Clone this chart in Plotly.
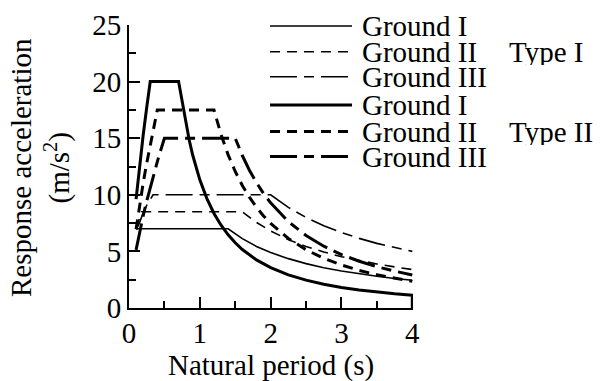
import plotly.graph_objects as go

# ---- data ----
period_t1_g1 = [0.1, 1.4, 1.6, 1.8, 2.0, 2.25, 2.5, 2.75, 3.0, 3.25, 3.5, 3.75, 4.0]
accel_t1_g1 = [7.0, 7.0, 6.13, 5.44, 4.9, 4.36, 3.92, 3.56, 3.27, 3.02, 2.8, 2.61, 2.45]

period_t1_g2 = [0.1, 0.14, 0.18, 1.6, 1.8, 2.0, 2.25, 2.5, 2.75, 3.0, 3.25, 3.5, 3.75, 4.0]
accel_t1_g2 = [7.03, 7.87, 8.5, 8.5, 7.56, 6.8, 6.04, 5.44, 4.95, 4.53, 4.18, 3.89, 3.63, 3.4]

period_t1_g3 = [0.1, 0.11, 0.15, 0.2, 0.25, 0.3, 0.34, 2.0, 2.25, 2.5, 2.75, 3.0, 3.25, 3.5, 3.75, 4.0]
accel_t1_g3 = [7.0, 7.0, 7.55, 8.41, 9.06, 9.6, 10.0, 10.0, 8.89, 8.0, 7.27, 6.67, 6.15, 5.71, 5.33, 5.0]

period_t2_g1 = [0.1, 0.15, 0.2, 0.25, 0.3, 0.7, 0.75, 0.8, 0.85, 0.9, 1.0, 1.1, 1.2, 1.3, 1.4, 1.5,
                1.6, 1.8, 2.0, 2.25, 2.5, 2.75, 3.0, 3.25, 3.5, 3.75, 4.0, 4.0]
accel_t2_g1 = [9.62, 12.6, 15.26, 17.71, 20.0, 20.0, 18.28, 16.42, 14.84, 13.49, 11.32, 9.66, 8.35, 7.31,
               6.46, 5.76, 5.17, 4.25, 3.57, 2.93, 2.46, 2.1, 1.81, 1.59, 1.4, 1.25, 1.12, 0.0]

period_t2_g2 = [0.1, 0.15, 0.2, 0.25, 0.3, 0.35, 0.4, 1.2, 1.3, 1.4, 1.5, 1.6, 1.7, 1.8, 1.9, 2.0,
                2.25, 2.5, 2.75, 3.0, 3.25, 3.5, 3.75, 4.0]
accel_t2_g2 = [6.95, 9.1, 11.03, 12.79, 14.45, 16.01, 17.5, 17.5, 15.31, 13.53, 12.06, 10.83, 9.79,
               8.9, 8.13, 7.47, 6.14, 5.15, 4.39, 3.8, 3.32, 2.94, 2.62, 2.35]

period_t2_g3 = [0.1, 0.15, 0.2, 0.25, 0.3, 0.35, 0.4, 0.45, 0.5, 1.5, 1.6, 1.7, 1.8, 1.9, 2.0,
                2.25, 2.5, 2.75, 3.0, 3.25, 3.5, 3.75, 4.0]
accel_t2_g3 = [5.13, 6.72, 8.14, 9.45, 10.67, 11.82, 12.93, 13.98, 15.0, 15.0, 13.47, 12.17, 11.07,
               10.11, 9.29, 7.63, 6.4, 5.46, 4.72, 4.13, 3.65, 3.26, 2.92]

series_labels = ["Ground I", "Ground II", "Ground III", "Ground I", "Ground II", "Ground III"]
type_labels = ["Type I", "Type II"]
x_title = "Natural period (s)"
y_title = "Response acceleration<br>(m/s<sup>2</sup>)"

x_ticks = [0, 1, 2, 3, 4]
y_ticks = [0, 5, 10, 15, 20, 25]

# ---- styling ----
FONT = "Liberation Serif"
FS = 29
thin, thick = 1.6, 3.0
short_dash = "10px,7px"
long_dash = "27px,7px,10px,7px"

xs = [period_t1_g1, period_t1_g2, period_t1_g3, period_t2_g1, period_t2_g2, period_t2_g3]
ys = [accel_t1_g1, accel_t1_g2, accel_t1_g3, accel_t2_g1, accel_t2_g2, accel_t2_g3]
widths = [thin, thin, thin, thick, thick, thick]
dashes = ["solid", short_dash, long_dash, "solid", short_dash, long_dash]

fig = go.Figure()
for x, y, w, d, name in zip(xs, ys, widths, dashes, series_labels):
    fig.add_trace(go.Scatter(x=x, y=y, mode="lines", name=name, showlegend=False,
                             line=dict(color="black", width=w, dash=d)))

# plot area in pixels
L, R, T, B = 129, 187, 25, 73
W, H = 600, 381
pw, ph = W - L - R, H - T - B

def px_x(p):
    return (p - L) / pw

def px_y(p):
    return (H - B - p) / ph

# hand-built legend (rows spaced as in the reference)
row_y = [26, 51.7, 76.7, 105, 131.5, 156.5]
shapes = []
annotations = []
for i, (lab, w, d) in enumerate(zip(series_labels, widths, dashes)):
    yy = px_y(row_y[i])
    shapes.append(dict(type="line", xref="paper", yref="paper",
                       x0=px_x(270), x1=px_x(352), y0=yy, y1=yy,
                       line=dict(color="black", width=w, dash=d)))
    annotations.append(dict(xref="paper", yref="paper", x=px_x(361), y=yy,
                            text=lab, showarrow=False, xanchor="left", yanchor="middle",
                            borderpad=0, height=26,
                            font=dict(family=FONT, size=FS, color="black")))
for lab, ry in zip(type_labels, [row_y[1], row_y[4]]):
    annotations.append(dict(xref="paper", yref="paper", x=px_x(508), y=px_y(ry),
                            text=lab, showarrow=False, xanchor="left", yanchor="middle",
                            borderpad=0, height=26,
                            font=dict(family=FONT, size=FS, color="black")))

# axis titles
annotations.append(dict(xref="paper", yref="paper", x=0.5, y=px_y(365),
                        text=x_title, showarrow=False, xanchor="center", yanchor="middle",
                        borderpad=0, font=dict(family=FONT, size=FS, color="black")))
annotations.append(dict(xref="paper", yref="paper", x=px_x(40), y=px_y(167),
                        text=y_title, showarrow=False, xanchor="center", yanchor="middle",
                        textangle=-90, borderpad=0,
                        font=dict(family=FONT, size=FS, color="black")))

fig.update_layout(
    width=W, height=H,
    margin=dict(l=L, r=R, t=T, b=B, pad=0, autoexpand=False),
    paper_bgcolor="white", plot_bgcolor="white",
    font=dict(family=FONT, size=FS, color="black"),
    shapes=shapes, annotations=annotations,
    showlegend=False,
)
fig.update_xaxes(
    range=[0, 4.01], tickvals=x_ticks, ticks="inside", ticklen=11, tickwidth=2,
    tickcolor="black", showline=True, linecolor="black", linewidth=2,
    showgrid=False, zeroline=False, automargin=False, ticklabelstandoff=-2,
    minor=dict(ticks="inside", ticklen=7, tickwidth=2, tickcolor="black", dtick=0.5, showgrid=False),
    tickfont=dict(family=FONT, size=FS),
)
fig.update_yaxes(
    range=[0, 25], tickvals=y_ticks, ticks="inside", ticklen=11, tickwidth=2,
    tickcolor="black", showline=True, linecolor="black", linewidth=2,
    showgrid=False, zeroline=False, automargin=False,
    minor=dict(ticks="inside", ticklen=7, tickwidth=2, tickcolor="black", dtick=2.5, showgrid=False),
    tickfont=dict(family=FONT, size=FS),
)

fig.write_html("out.html", config={"displayModeBar": False},
               post_script="document.body.style.margin='0';document.body.style.padding='0';")
